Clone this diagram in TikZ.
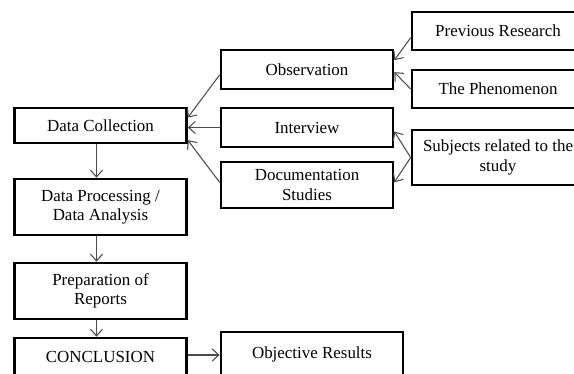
\documentclass[tikz,border=0pt]{standalone}
\usepackage{fontspec}
\setmainfont{Liberation Serif}
\usetikzlibrary{arrows.meta}
\begin{document}
\begin{tikzpicture}[x=0.75pt, y=-0.75pt, font=\fontsize{12.7}{14.5}\selectfont]
    \tikzstyle{box_style} = [rectangle, draw=black, line width=2pt, fill=white, align=center, inner sep=0pt, minimum width=129pt]
    \tikzstyle{edge_style} = [draw=black!70, line width=0.8pt, -{Straight Barb[length=5pt,width=9pt]}]
    \clip (0,0) rectangle (574,374);

    \node[box_style, minimum height=26.25pt] (dc) at (100.5,125.5) {Data Collection};
    \node[box_style, minimum height=42pt] (dp) at (100.5,207) {Data Processing /\\Data Analysis};
    \node[box_style, minimum height=42pt] (prep) at (100.5,291) {Preparation of\\Reports};
    \node[box_style, minimum height=28.5pt] (conc) at (100.5,357) {CONCLUSION};

    \node[box_style, minimum height=29.25pt] (obs) at (307,69.5) {Observation};
    \node[box_style, minimum height=29.25pt] (int) at (307,127.5) {Interview};
    \node[box_style, minimum height=34.5pt] (doc) at (307,185) {Documentation\\Studies};
    \node[box_style, minimum width=136.5pt, minimum height=33pt] (obj) at (312,354) {Objective Results};

    \node[box_style, minimum height=28.5pt] (prev) at (498,31) {Previous Research};
    \node[box_style, minimum height=28.5pt] (phen) at (498,89) {The Phenomenon};
    \node[box_style, minimum height=41.25pt] (subj) at (498,157.5) {Subjects related to the\\study};

    \draw[edge_style]  ([xshift=-3pt]dc.south) -- ([xshift=-3pt]dp.north);
    \draw[edge_style]  ([xshift=-3pt]dp.south) -- ([xshift=-3pt]prep.north);
    \draw[edge_style]  ([xshift=-3pt]prep.south) -- ([xshift=-3pt]conc.north);
    \draw[edge_style]  ([yshift=1.5pt]conc.east) -- ([yshift=1.5pt]conc.east -| obj.west);

    \draw[edge_style]  ([yshift=-4pt]obs.west) -- ([yshift=6pt]dc.east);
    \draw[edge_style]  (int.west) -- (int.west -| dc.east);
    \draw[edge_style]  ([yshift=2pt]doc.west) -- ([yshift=-11pt]dc.east);

    \draw[edge_style]  ([yshift=-5pt]prev.west) -- ([yshift=7pt]obs.east);
    \draw[edge_style]  (phen.west) -- ([yshift=-2pt]obs.east);
    \draw[edge_style]  (subj.west) -- ([yshift=-3pt]int.east);
    \draw[edge_style]  (subj.west) -- ([yshift=2pt]doc.east);
\end{tikzpicture}
\end{document}
